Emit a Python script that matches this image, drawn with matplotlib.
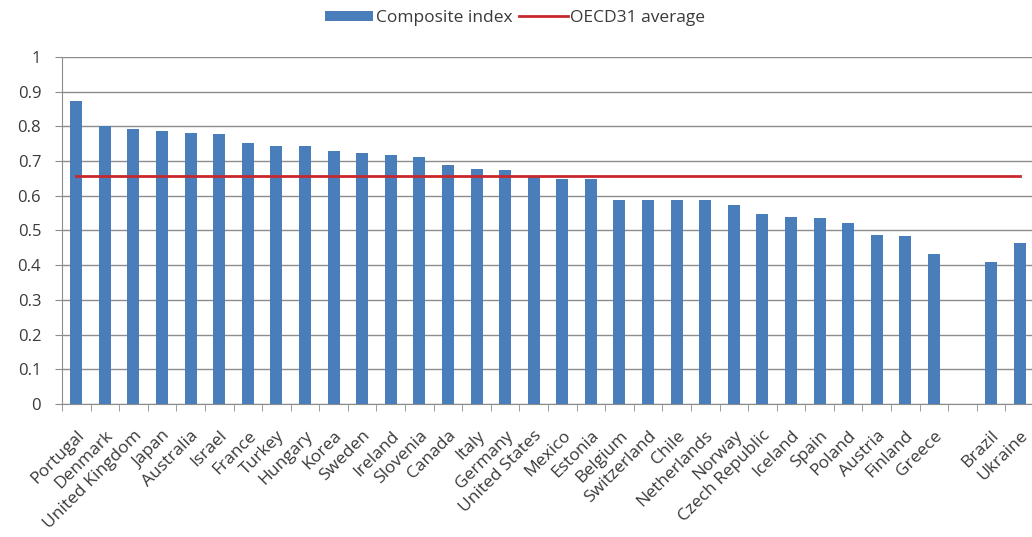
import numpy as np
import matplotlib
matplotlib.use("Agg")
import matplotlib.pyplot as plt
from matplotlib.patches import Patch
from matplotlib.lines import Line2D

countries = ["Portugal", "Denmark", "United Kingdom", "Japan", "Australia", "Israel",
             "France", "Turkey", "Hungary", "Korea", "Sweden", "Ireland", "Slovenia",
             "Canada", "Italy", "Germany", "United States", "Mexico", "Estonia",
             "Belgium", "Switzerland", "Chile", "Netherlands", "Norway", "Czech Republic",
             "Iceland", "Spain", "Poland", "Austria", "Finland", "Greece", "",
             "Brazil", "Ukraine"]
composite = [0.872, 0.800, 0.792, 0.787, 0.782, 0.777, 0.753, 0.743, 0.743, 0.728,
             0.722, 0.718, 0.713, 0.688, 0.677, 0.673, 0.657, 0.647, 0.647,
             0.588, 0.588, 0.588, 0.588, 0.573, 0.548, 0.538, 0.537, 0.523,
             0.488, 0.483, 0.432, np.nan, 0.408, 0.463]
oecd_avg = 0.657
yticks = [0, 0.1, 0.2, 0.3, 0.4, 0.5, 0.6, 0.7, 0.8, 0.9, 1]
ytick_labels = ["0", "0.1", "0.2", "0.3", "0.4", "0.5", "0.6", "0.7", "0.8", "0.9", "1"]

plt.rcParams['font.family'] = ['Open Sans', 'DejaVu Sans']

fig = plt.figure(figsize=(10.32, 5.37), dpi=100)
ax = fig.add_axes([62/1032, 133/537, 972/1032, 347/537])

n = len(countries)
x = np.arange(n)
bar_color = "#4a7ebb"
text_color = "#3a3a3a"
ax.bar(x, composite, width=0.42, color=bar_color, zorder=3)
ax.plot(x, [oecd_avg] * n, color="#c8282d", lw=2, zorder=4)

ax.set_xlim(-0.5, n - 0.5)
ax.set_ylim(0, 1)
ax.set_yticks(yticks)
ax.set_yticklabels(ytick_labels, fontsize=12, color=text_color)
ax.yaxis.grid(True, color="#8c8c8c", lw=1, zorder=0)
ax.tick_params(axis='y', length=5, color="#8c8c8c", pad=10)

ax.set_xticks(x)
ax.set_xticklabels(countries, rotation=45, ha='right', va='top', rotation_mode='anchor',
                   fontsize=12.5, color=text_color)
ax.tick_params(axis='x', which='major', length=0, pad=17)
ax.set_xticks(np.arange(-0.5, n, 1), minor=True)
ax.tick_params(axis='x', which='minor', length=5, color="#8c8c8c")

for s in ["top", "right"]:
    ax.spines[s].set_visible(False)
ax.spines["left"].set_color("#8c8c8c")
ax.spines["bottom"].set_color("#8c8c8c")

handles = [Patch(facecolor=bar_color, label="Composite index"),
           Line2D([0], [0], color="#c8282d", lw=2, label="OECD31 average")]
fig.legend(handles=handles, loc="center", bbox_to_anchor=(515/1032, 1 - 18/537),
           ncol=2, frameon=False, fontsize=12.5, handlelength=2.8, handleheight=0.5,
           columnspacing=0.4, handletextpad=0.15, labelcolor=text_color)

fig.savefig("out.png", dpi=100)
